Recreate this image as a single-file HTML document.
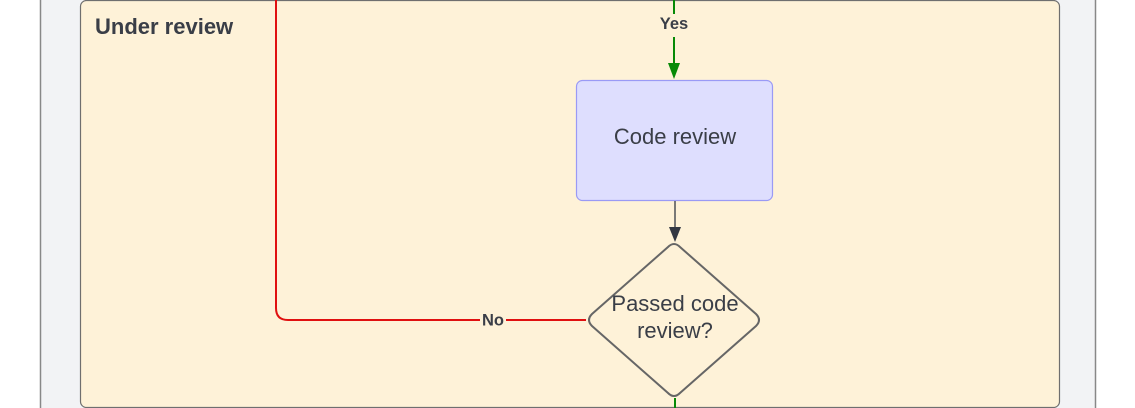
<!DOCTYPE html>
<html><head><meta charset="utf-8"><style>
html,body{margin:0;padding:0;background:#fff;}
svg{display:block;font-family:"Liberation Sans",sans-serif;}
</style></head><body>
<svg width="1135" height="408" viewBox="0 0 1135 408" xmlns="http://www.w3.org/2000/svg">
<rect x="40.5" y="-10" width="1055" height="430" fill="#f2f3f5" stroke="#888" stroke-width="1.5"/>
<rect x="80.5" y="0.5" width="979" height="407" rx="6" fill="#fef2d8" stroke="#6f6f6f" stroke-width="1.2"/>
<text x="95" y="34" font-size="22" font-weight="bold" fill="#3a3e47">Under review</text>
<line x1="674" y1="0" x2="674" y2="14" stroke="#078a07" stroke-width="2"/>
<line x1="674" y1="37" x2="674" y2="64" stroke="#078a07" stroke-width="2"/>
<polygon points="668,63 680,63 674,79" fill="#078a07"/>
<text x="674" y="29" font-size="16.5" font-weight="bold" fill="#3a3e47" text-anchor="middle">Yes</text>
<rect x="576.5" y="80.5" width="196" height="120" rx="6" fill="#dedefe" stroke="#9a9af5" stroke-width="1.2"/>
<text x="675" y="144" font-size="22" fill="#3a3e47" text-anchor="middle">Code review</text>
<line x1="675" y1="201" x2="675" y2="228" stroke="#333843" stroke-width="1.3"/>
<polygon points="669,227 681,227 675,242" fill="#333843"/>
<path d="M668,247 Q674,241 680,247 L756,314 Q762,320 756,326 L680,393 Q674,399 668,393 L592,326 Q586,320 592,314 Z" fill="#fef2d8" stroke="#666" stroke-width="2"/>
<text x="675" y="311" font-size="22" fill="#3a3e47" text-anchor="middle">Passed code</text>
<text x="675" y="338" font-size="22" fill="#3a3e47" text-anchor="middle">review?</text>
<line x1="675" y1="398" x2="675" y2="408" stroke="#078a07" stroke-width="2"/>
<path d="M276,0 L276,308 Q276,320 288,320 L480,320 M506,320 L586,320" fill="none" stroke="#e01010" stroke-width="2"/>
<text x="493" y="325.5" font-size="16.5" font-weight="bold" fill="#3a3e47" text-anchor="middle">No</text>
</svg>
</body></html>
